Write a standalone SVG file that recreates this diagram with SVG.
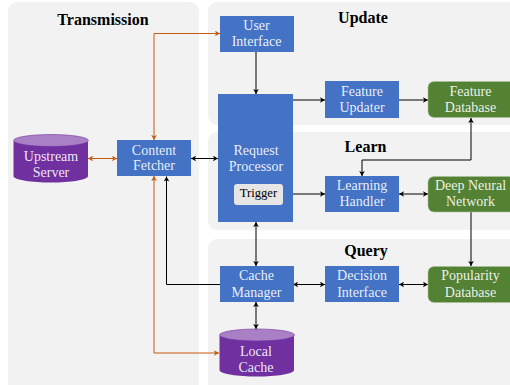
<svg xmlns="http://www.w3.org/2000/svg" width="510" height="385" viewBox="0 0 510 385">
<style>
text{font-family:"Liberation Serif","Times New Roman",serif;text-anchor:middle}
.p{fill:#f2f2f2}
.h{font-size:16px;font-weight:bold;fill:#000}
.l{font-size:14px;fill:#fff;fill-opacity:.9}
.b{fill:#4472c4}
.g{fill:#548235;stroke:#a9c19a;stroke-width:.6}
.c{fill:#7030a0}
.t{fill:#a97fc6;stroke:#7030a0;stroke-width:.6}
.k{fill:none;stroke:#000;stroke-width:1;marker-end:url(#ak)}
.kk{fill:none;stroke:#000;stroke-width:1;marker-start:url(#aks);marker-end:url(#ak)}
.oo{fill:none;stroke:#c55a11;stroke-width:1;marker-start:url(#aos);marker-end:url(#ao)}
</style>
<defs>
<marker id="ak" markerUnits="userSpaceOnUse" markerWidth="6" markerHeight="6" refX="5" refY="3" orient="auto"><path d="M0 0.2L5 3L0 5.8L1.2 3Z" fill="#000"/></marker>
<marker id="aks" markerUnits="userSpaceOnUse" markerWidth="6" markerHeight="6" refX="0" refY="3" orient="auto"><path d="M5 0.2L0 3L5 5.8L3.8 3Z" fill="#000"/></marker>
<marker id="ao" markerUnits="userSpaceOnUse" markerWidth="6" markerHeight="6" refX="5" refY="3" orient="auto"><path d="M0 0.2L5 3L0 5.8L1.2 3Z" fill="#c55a11"/></marker>
<marker id="aos" markerUnits="userSpaceOnUse" markerWidth="6" markerHeight="6" refX="0" refY="3" orient="auto"><path d="M5 0.2L0 3L5 5.8L3.8 3Z" fill="#c55a11"/></marker>
</defs>
<rect width="510" height="385" fill="#fff"/>
<g id="panels">
<rect class="p" x="8" y="2" width="191" height="390" rx="9"/>
<rect class="p" x="208" y="2" width="320" height="123" rx="9"/>
<rect class="p" x="208" y="132" width="320" height="98" rx="9"/>
<rect class="p" x="208" y="239" width="320" height="160" rx="9"/>
<text class="h" x="103" y="25">Transmission</text>
<text class="h" x="363" y="23">Update</text>
<text class="h" x="365.500" y="152">Learn</text>
<text class="h" x="366" y="256">Query</text>
</g>
<g id="connectors">
<path class="oo" d="M154 140V33.500H220"/>
<path class="oo" d="M154 176V353H219"/>
<path class="oo" d="M88 158.500H117"/>
<path class="kk" d="M191 158.500H218"/>
<path class="k" d="M220 284.500H166.500V176.500"/>
<path class="k" d="M256 52V94"/>
<path class="k" d="M293 100H325"/>
<path class="k" d="M399 100H428"/>
<path class="kk" d="M471 118V160H362V176"/>
<path class="k" d="M283 194H325"/>
<path class="kk" d="M399 194H428"/>
<path class="k" d="M471 212V266"/>
<path class="kk" d="M256 222V266"/>
<path class="kk" d="M293 284.500H325"/>
<path class="kk" d="M399 284.500H428"/>
<path class="kk" d="M256 302V329"/>
</g>
<g id="user-interface"><rect class="b" x="220" y="16" width="74" height="36"/><text class="l" x="256.500" y="30">User</text><text class="l" x="256.500" y="46">Interface</text></g>
<g id="request-processor"><rect class="b" x="218" y="94" width="75" height="128"/><text class="l" x="256" y="155">Request</text><text class="l" x="256" y="171">Processor</text></g>
<g id="trigger"><rect x="234" y="184" width="49" height="21" rx="3" fill="#e7e6e6"/><text x="258.500" y="197" font-size="12.600" fill="#000">Trigger</text></g>
<g id="content-fetcher"><rect class="b" x="117" y="140" width="74" height="36"/><text class="l" x="154" y="154.500">Content</text><text class="l" x="154" y="170">Fetcher</text></g>
<g id="upstream-server"><path class="c" d="M13.500 141.500V176C13.500 180 32 182.500 51 182.500S88 180 88 176V141.500Z"/><ellipse class="t" cx="51" cy="140.500" rx="37.500" ry="6"/><text class="l" x="51" y="160.500">Upstream</text><text class="l" x="51" y="176.500">Server</text></g>
<g id="feature-updater"><rect class="b" x="325" y="81" width="74" height="37"/><text class="l" x="362" y="96">Feature</text><text class="l" x="362" y="112">Updater</text></g>
<g id="feature-database"><rect class="g" x="428" y="81.500" width="90" height="36" rx="6"/><text class="l" x="470.500" y="96">Feature</text><text class="l" x="470.500" y="112">Database</text></g>
<g id="learning-handler"><rect class="b" x="325" y="176" width="74" height="36"/><text class="l" x="362" y="190">Learning</text><text class="l" x="362" y="206">Handler</text></g>
<g id="deep-neural-network"><rect class="g" x="428" y="176.500" width="90" height="35.500" rx="6"/><text class="l" x="470.500" y="190">Deep Neural</text><text class="l" x="470.500" y="206">Network</text></g>
<g id="cache-manager"><rect class="b" x="220" y="266" width="74" height="36"/><text class="l" x="256.500" y="280">Cache</text><text class="l" x="256.500" y="297">Manager</text></g>
<g id="decision-interface"><rect class="b" x="325" y="266" width="74" height="36"/><text class="l" x="362" y="280">Decision</text><text class="l" x="362" y="297">Interface</text></g>
<g id="popularity-database"><rect class="g" x="428" y="266.500" width="90" height="36" rx="6"/><text class="l" x="470.500" y="280">Popularity</text><text class="l" x="470.500" y="297">Database</text></g>
<g id="local-cache"><path class="c" d="M219.500 336V370C219.500 374 238 376.500 257 376.500S294 374 294 370V336Z"/><ellipse class="t" cx="257" cy="335" rx="37.500" ry="6"/><text class="l" x="256" y="356">Local</text><text class="l" x="256" y="372">Cache</text></g>
</svg>
